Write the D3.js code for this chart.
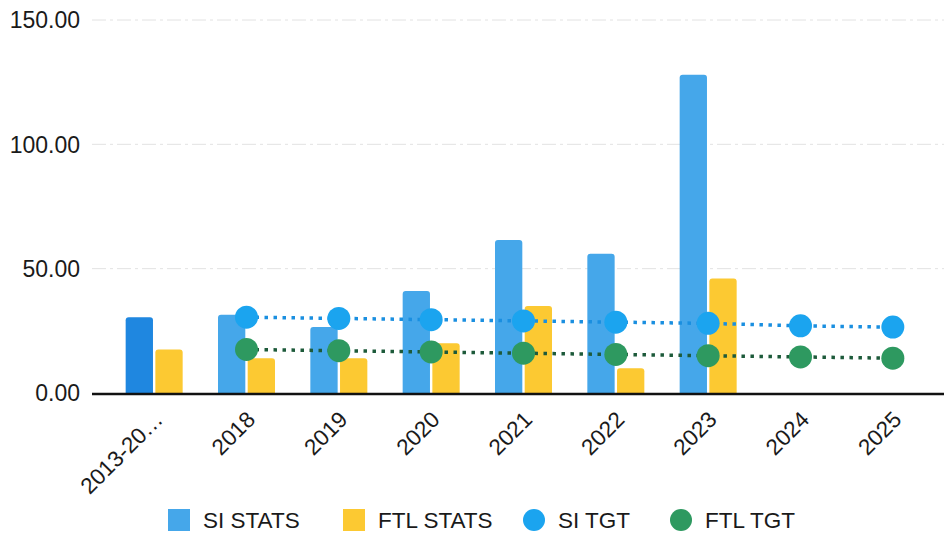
<!DOCTYPE html>
<html><head><meta charset="utf-8">
<script src="https://cdn.jsdelivr.net/npm/d3@7"></script>
<style>body{margin:0;background:#fff;}svg{display:block;font-family:"Liberation Sans",Arial,sans-serif;}</style>
</head><body><svg id="c" width="944" height="533"></svg>
<script>
const categories = ["2013-20…","2018","2019","2020","2021","2022","2023","2024","2025"];
const siStats  = [30.5, 31.5, 26.5, 41, 61.5, 56, 128, null, null];
const ftlStats = [17.5, 14, 14, 20, 35, 10, 46, null, null];
const siTgt    = [null, 30.5, 30, 29.5, 29, 28.5, 28, 27, 26.5];
const ftlTgt   = [null, 17.5, 17, 16.5, 16, 15.5, 15, 14.5, 14];
const yTicks = [0, 50, 100, 150];
const seriesNames = ["SI STATS","FTL STATS","SI TGT","FTL TGT"];

const colors = {si:"#45a7ea", siFirst:"#1f87e0", ftl:"#fcc932", siTgt:"#1ba4ef", ftlTgt:"#2e9960"};

const svg = d3.select("#c");
const y = d3.scaleLinear().domain([0,150]).range([393,20]);
const x = d3.scaleBand().domain(categories).range([108,939]).paddingInner(0).paddingOuter(0);
const xs = d3.scaleBand().domain(["si","ftl"]).range([0,57]).paddingInner(0.08);

// gridlines
svg.append("g").selectAll("line").data(yTicks.filter(d=>d>0)).join("line")
  .attr("x1",92).attr("x2",944).attr("y1",d=>y(d)).attr("y2",d=>y(d))
  .attr("stroke","#e2e2e2").attr("stroke-width",1).attr("stroke-dasharray","14,4,3,4");

// y labels
svg.append("g").selectAll("text").data(yTicks).join("text")
  .attr("x",80).attr("y",d=>y(d)).attr("dy","0.36em").attr("text-anchor","end")
  .attr("font-size",23).attr("fill","#1a1a1a").text(d=>d.toFixed(2));

// bars
const g = svg.append("g");
categories.forEach((c,i)=>{
  const x0 = x(c) + x.bandwidth()/2 - 28.5;
  if(siStats[i]!=null) g.append("path").attr("d", roundTop(x0+xs("si"), y(siStats[i]), xs.bandwidth(), y(0)-y(siStats[i]), 3))
     .attr("fill", i===0?colors.siFirst:colors.si);
  if(ftlStats[i]!=null) g.append("path").attr("d", roundTop(x0+xs("ftl"), y(ftlStats[i]), xs.bandwidth(), y(0)-y(ftlStats[i]), 3))
     .attr("fill", colors.ftl);
});
function roundTop(x0,y0,w,h,r){
  return `M${x0},${y0+h}V${y0+r}Q${x0},${y0} ${x0+r},${y0}H${x0+w-r}Q${x0+w},${y0} ${x0+w},${y0+r}V${y0+h}Z`;
}

// baseline
svg.append("line").attr("x1",92).attr("x2",944).attr("y1",y(0)+1).attr("y2",y(0)+1)
  .attr("stroke","#111").attr("stroke-width",2.5);

// target lines
const cx = c => x(c)+x.bandwidth()/2;
function drawTgt(vals,color,lineColor){
  const pts = categories.map((c,i)=>({c,v:vals[i]})).filter(d=>d.v!=null);
  svg.append("path").datum(pts)
    .attr("d", d3.line().x(d=>cx(d.c)).y(d=>y(d.v)))
    .attr("fill","none").attr("stroke",lineColor).attr("stroke-width",3.5)
    .attr("stroke-dasharray","3.5,5.5");
  svg.append("g").selectAll("circle").data(pts).join("circle")
    .attr("cx",d=>cx(d.c)).attr("cy",d=>y(d.v)).attr("r",11.5).attr("fill",color);
}
drawTgt(siTgt, colors.siTgt, "#1a8fe0");
drawTgt(ftlTgt, colors.ftlTgt, "#1d5a3a");

// x labels
svg.append("g").selectAll("text").data(categories).join("text")
  .attr("transform",c=>`translate(${cx(c)+10},${421}) rotate(-45)`)
  .attr("text-anchor","end").attr("font-size",22.5).attr("fill","#1a1a1a").text(c=>c);

// legend
const legend = [
  {name:seriesNames[0], shape:"rect", color:colors.si, x:168},
  {name:seriesNames[1], shape:"rect", color:colors.ftl, x:343},
  {name:seriesNames[2], shape:"circle", color:colors.siTgt, x:523},
  {name:seriesNames[3], shape:"circle", color:colors.ftlTgt, x:670}
];
const lg = svg.append("g");
legend.forEach(l=>{
  if(l.shape==="rect") lg.append("rect").attr("x",l.x).attr("y",509).attr("width",22).attr("height",22).attr("fill",l.color);
  else lg.append("circle").attr("cx",l.x+11).attr("cy",520).attr("r",11).attr("fill",l.color);
  lg.append("text").attr("x",l.x+35).attr("y",520).attr("dy","0.36em").attr("font-size",22.5).attr("fill","#1a1a1a").text(l.name);
});
</script></body></html>
